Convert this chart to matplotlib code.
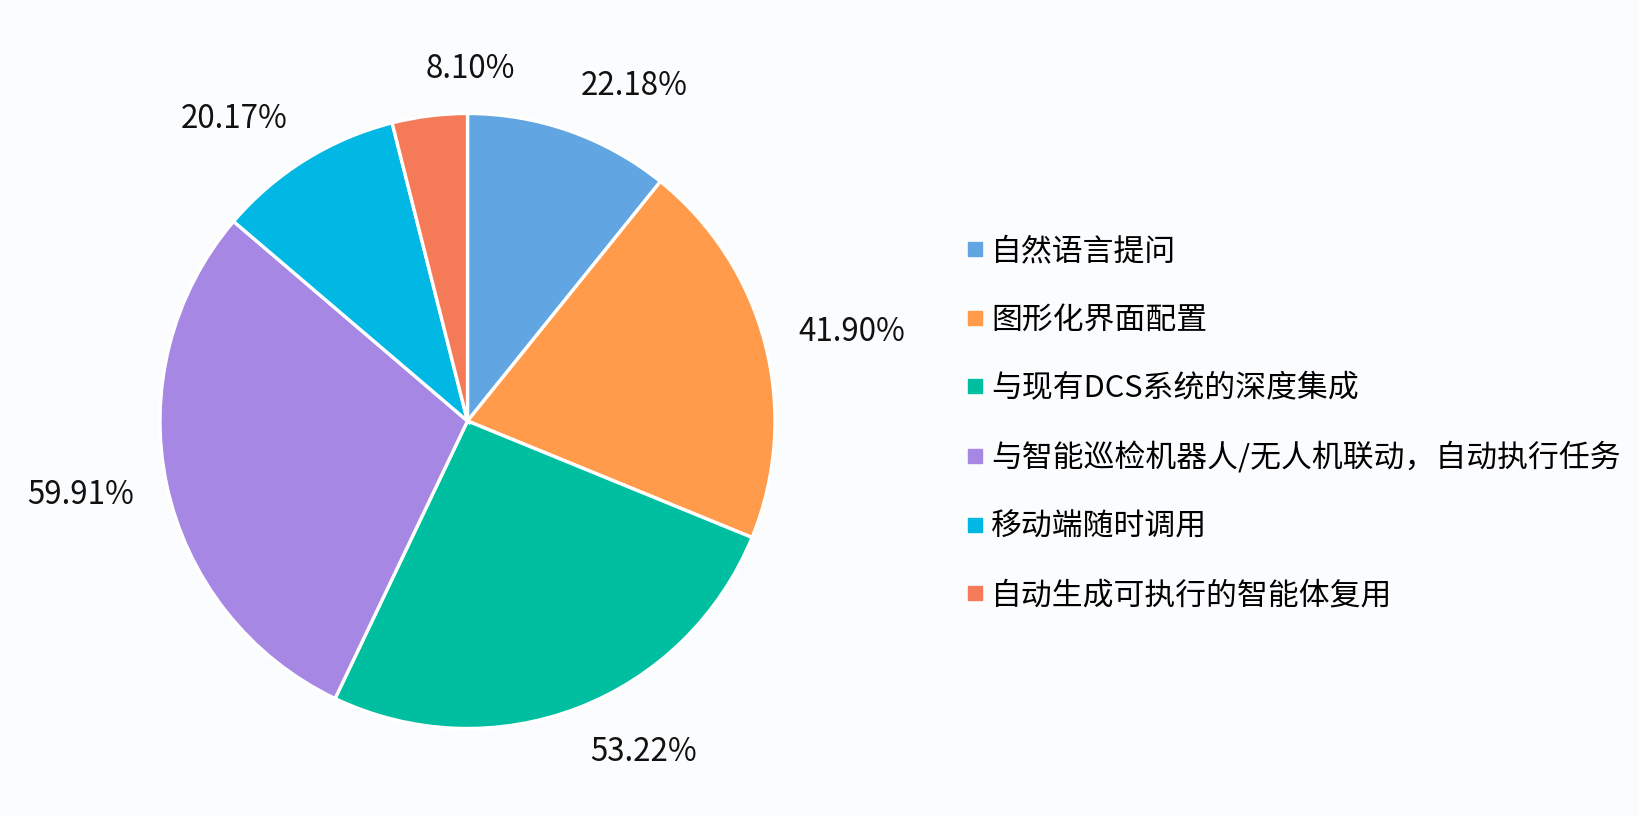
import matplotlib
matplotlib.use("Agg")
import matplotlib.pyplot as plt
from matplotlib.lines import Line2D
import numpy as np

plt.rcParams['font.family'] = ['Noto Sans CJK SC', 'DejaVu Sans']

categories = ["自然语言提问", "图形化界面配置", "与现有DCS系统的深度集成",
              "与智能巡检机器人/无人机联动，自动执行任务", "移动端随时调用",
              "自动生成可执行的智能体复用"]
values = [22.18, 41.90, 53.22, 59.91, 20.17, 8.10]
colors = ["#62a5e3", "#ff9b4b", "#00bfa0", "#a687e3", "#00b8e3", "#f47a58"]

W, H = 1640, 816
bg = "#fbfcfe"
fig = plt.figure(figsize=(W / 100, H / 100), dpi=100, facecolor=bg)

cx, cy, r = 467.5, 421, 307.5
ax = fig.add_axes([(cx - r) / W, (H - cy - r) / H, 2 * r / W, 2 * r / H])
ax.set_facecolor(bg)

wedges, _ = ax.pie(values, colors=colors, startangle=90, counterclock=False,
                   radius=1.0,
                   wedgeprops=dict(edgecolor="white", linewidth=2.4))
rx, ry = 1.11, 1.155
for w, v in zip(wedges, values):
    ang = np.deg2rad((w.theta1 + w.theta2) / 2)
    x, y = rx * np.cos(ang), ry * np.sin(ang)
    ax.text(x, y, f"{v:.2f}%", fontsize=22.5, color="#111111",
            ha='left' if x > -0.2 else 'right', va='center')
ax.set_xlim(-1, 1)
ax.set_ylim(-1, 1)
ax.axis('off')

handles = [Line2D([0], [0], marker='s', linestyle='none', markersize=10,
                  markerfacecolor=c, markeredgecolor=c) for c in colors]
fig.legend(handles, categories, loc='center left',
           bbox_to_anchor=(965.5 / W, 0.481), frameon=False,
           fontsize=22.2, labelspacing=1.22, handlelength=0.62,
           handletextpad=0.22, borderpad=0, borderaxespad=0)

fig.savefig("out.png", dpi=100, facecolor=bg)
